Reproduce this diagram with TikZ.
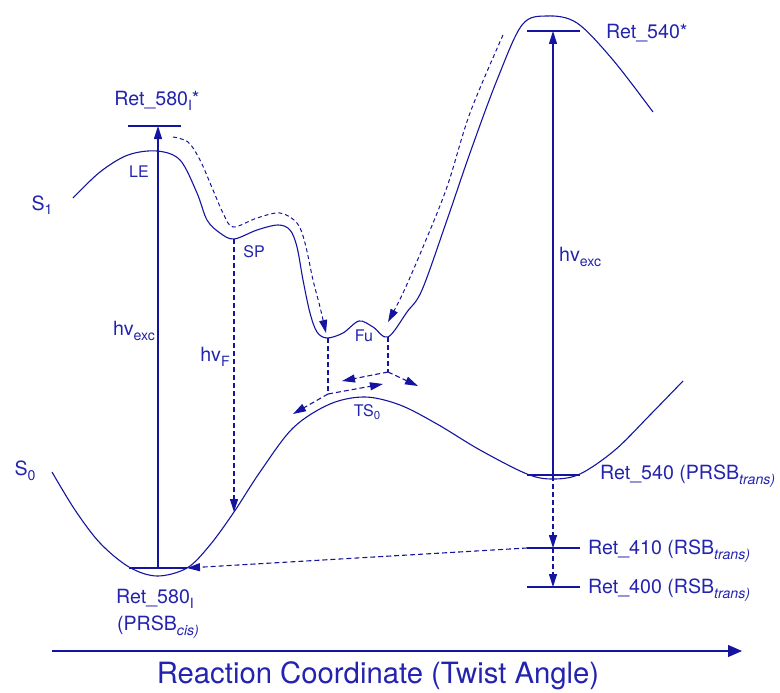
\documentclass[tikz,border=0pt]{standalone}
\usepackage{fontspec}
\setmainfont{TeX Gyre Heros}
\usepackage{graphicx}
\usetikzlibrary{arrows.meta}
\definecolor{ink}{RGB}{20,20,160}
\definecolor{txt}{RGB}{35,35,175}
\newcommand\lowx[1]{\raisebox{-0.45ex}{\scalebox{0.72}{#1}}}
\begin{document}
\begin{tikzpicture}[x=1pt,y=-1pt,
  every node/.style={text=txt, inner sep=0pt},
  lbl/.style={font=\fontsize{19.6}{21}\selectfont},
  small/.style={font=\fontsize{16}{18}\selectfont},
  big/.style={font=\fontsize{29.3}{31}\selectfont},
  curve/.style={draw=ink, line width=1.1pt},
  lev/.style={draw=ink, line width=1.1pt},
  dsh/.style={draw=ink, line width=1.1pt, dash pattern=on 5pt off 3pt},
  dshfine/.style={draw=ink, line width=1pt, dash pattern=on 4pt off 3pt},
  tipped/.style={-{Triangle[length=13pt,width=8pt]}},
  ]
\useasboundingbox (0,0) rectangle (780,693);

% ---------- S1 surface ----------
\draw[curve] plot[smooth, tension=0.55] coordinates {
  (73,198) (100,172) (128,155) (157,151) (180,160) (197,193) (207,220) (220,233) (234,239)
  (257,230) (278,225) (290,230) (297,247) (303,280) (310,313) (317,332) (327,338)
  (343,333) (359,321) (373,327) (388,337) (407,312) (422,290) (447,220) (470,153)
  (497,80) (522,25) (547,16) (577,23) (613,60) (653,112)};

% ---------- S0 surface ----------
\draw[curve] plot[smooth, tension=0.55] coordinates {
  (52,472) (75,510) (100,543) (129,567) (157,576) (187,568) (210,545) (234,512)
  (260,472) (293,428) (330,404) (365,397) (400,405) (437,424) (480,450) (527,474)
  (553,479) (580,474) (615,450) (650,415) (683,381)};

% ---------- levels ----------
\coordinate (l580sL) at (128,126); \coordinate (l580sR) at (181,126);
\coordinate (l540sL) at (527,31);  \coordinate (l540sR) at (580,31);
\coordinate (l580L) at (129,568);  \coordinate (l580R) at (187,568);
\coordinate (l540L) at (527,475);  \coordinate (l540R) at (580,475);
\coordinate (l410L) at (527,548);  \coordinate (l410R) at (580,548);
\coordinate (l400L) at (527,587);  \coordinate (l400R) at (580,587);
\draw[lev] (l580sL) -- (l580sR);
\draw[lev] (l540sL) -- (l540sR);
\draw[lev] (l580L) -- (l580R);
\draw[lev] (l540L) -- (l540R);
\draw[lev] (l410L) -- (l410R);
\draw[lev] (l400L) -- (l400R);

% ---------- excitation arrows ----------
\coordinate (exLb) at (158,568); \coordinate (exLt) at (158,126);
\coordinate (exRb) at (553,475); \coordinate (exRt) at (553,31);
\draw[curve, tipped] (exLb) -- (exLt);
\draw[curve, tipped] (exRb) -- (exRt);

% ---------- fluorescence ----------
\coordinate (SP) at (234,239); \coordinate (SPdown) at (234,512);
\draw[dsh, tipped] (SP) -- (SPdown);

% ---------- relaxation on S1 ----------
\draw[dshfine, tipped] plot[smooth, tension=0.55] coordinates {
  (173,137) (188,142) (200,160) (213,190) (223,213) (233,227) (257,218) (280,213)
  (297,223) (305,243) (313,280) (320,307) (326,333)};
\draw[dshfine, tipped] plot[smooth, tension=0.55] coordinates {
  (503,35) (470,113) (447,187) (423,247) (403,293) (388,322)};

% ---------- Fu to TS0 ----------
\coordinate (FuL) at (328,338); \coordinate (FuLb) at (328,394);
\coordinate (FuR) at (388,337); \coordinate (FuRb) at (388,372);
\coordinate (FuLa) at (293,414); \coordinate (FuLc) at (383,384);
\coordinate (FuRa) at (342,381); \coordinate (FuRc) at (418,386);
\draw[dsh] (FuL) -- (FuLb);
\draw[dsh] (FuR) -- (FuRb);
\draw[dsh, tipped] (FuLb) -- (FuLa);
\draw[dsh, tipped] (FuLb) -- (FuLc);
\draw[dsh, tipped] (FuRb) -- (FuRa);
\draw[dsh, tipped] (FuRb) -- (FuRc);

% ---------- thermal decay ----------
\coordinate (v1) at (553,476); \coordinate (v2) at (553,548); \coordinate (v3) at (553,587);
\draw[dsh, tipped] (v1) -- (v2);
\draw[dsh, tipped] (v2) -- (v3);
\draw[dsh, tipped] (l410L) -- (l580R);

% ---------- axis ----------
\coordinate (ax0) at (52,651); \coordinate (ax1) at (742,651);
\draw[curve, -{Triangle[length=14pt,width=12pt]}] (ax0) -- (ax1);

% ---------- labels ----------
\node[lbl] (tR580s) at (157,101) {Ret\_580\lowx{I}*};
\node[lbl, anchor=west] (tR540s) at (606,33) {Ret\_540*};
\node[lbl] (tS1) at (42,205) {S\lowx{1}};
\node[lbl] (tS0) at (25,471) {S\lowx{0}};
\node[small] (tLE) at (139,172) {LE};
\node[small] (tSP) at (254,252) {SP};
\node[small] (tFu) at (364,336) {Fu};
\node[small] (tTS) at (367,412) {TS\lowx{0}};
\node[lbl] (thvL) at (134,331) {hv\lowx{exc}};
\node[lbl] (thvF) at (215,357) {hv\lowx{F}};
\node[lbl, anchor=west] (thvR) at (559,257) {hv\lowx{exc}};
\node[lbl, anchor=west] (tR540) at (600,476) {Ret\_540 (PRSB\lowx{\itshape trans)}};
\node[lbl, anchor=west] (tR410) at (588,551) {Ret\_410 (RSB\lowx{\itshape trans)}};
\node[lbl, anchor=west] (tR400) at (588,590) {Ret\_400 (RSB\lowx{\itshape trans)}};
\node[lbl] (tR580) at (155,599) {Ret\_580\lowx{I}};
\node[lbl] (tPRSB) at (158,627) {(PRSB\lowx{\itshape cis)}};
\node[big] (tAxis) at (378,676) {Reaction Coordinate (Twist Angle)};
\end{tikzpicture}
\end{document}
